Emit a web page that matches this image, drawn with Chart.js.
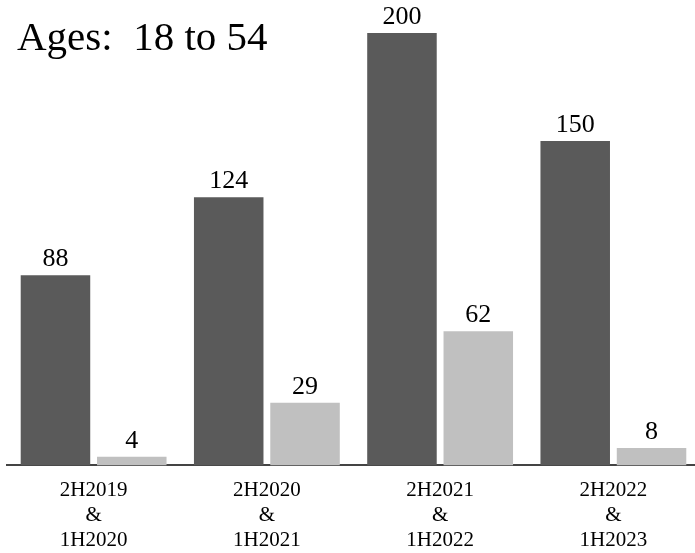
<!DOCTYPE html>
<html>
<head>
<meta charset="utf-8">
<script src="https://cdn.jsdelivr.net/npm/chart.js@4"></script>
<style>
html,body{margin:0;padding:0;background:#fff;overflow:hidden;width:695px;height:553px;}
canvas{display:block;}
</style>
</head>
<body>
<canvas id="c" width="701" height="569"></canvas>
<script>
const categories = [["2H2019","&","1H2020"],["2H2020","&","1H2021"],["2H2021","&","1H2022"],["2H2022","&","1H2023"]];
const seriesDark = [88, 124, 200, 150];
const seriesLight = [4, 29, 62, 8];
const titleText = "Ages:  18 to 54";

const serif = "'Liberation Serif', 'Times New Roman', serif";

const labelPlugin = {
  id: 'valueLabels',
  afterDatasetsDraw(chart) {
    const ctx = chart.ctx;
    ctx.save();
    ctx.font = "26px " + serif;
    ctx.fillStyle = "#000";
    ctx.textAlign = "center";
    ctx.textBaseline = "alphabetic";
    chart.data.datasets.forEach((ds, di) => {
      const meta = chart.getDatasetMeta(di);
      meta.data.forEach((bar, i) => {
        ctx.fillText(String(ds.data[i]), bar.x, bar.y - 9);
      });
    });
    ctx.restore();
  },
  afterDraw(chart) {
    const ctx = chart.ctx;
    ctx.save();
    ctx.font = "41px " + serif;
    ctx.fillStyle = "#000";
    ctx.textAlign = "left";
    ctx.textBaseline = "alphabetic";
    ctx.fillText(titleText, 17, 50);
    ctx.restore();
  }
};

new Chart(document.getElementById('c'), {
  type: 'bar',
  data: {
    labels: categories,
    datasets: [
      { data: seriesDark, backgroundColor: '#5a5a5a', categoryPercentage: 0.881, barPercentage: 0.911 },
      { data: seriesLight, backgroundColor: '#c0c0c0', categoryPercentage: 0.881, barPercentage: 0.911 }
    ]
  },
  options: {
    responsive: false,
    animation: false,
    layout: { padding: { left: 7, right: 1, top: 33, bottom: 4 } },
    plugins: { legend: { display: false }, tooltip: { enabled: false }, title: { display: false } },
    scales: {
      y: { display: false, min: 0, max: 200 },
      x: {
        grid: { display: false, drawTicks: false },
        border: { display: true, color: '#444', width: 2 },
        ticks: {
          color: '#000',
          font: { family: serif, size: 21, lineHeight: 1.2 },
          padding: 12,
          maxRotation: 0,
          autoSkip: false
        }
      }
    }
  },
  plugins: [labelPlugin]
});
</script>
</body>
</html>
